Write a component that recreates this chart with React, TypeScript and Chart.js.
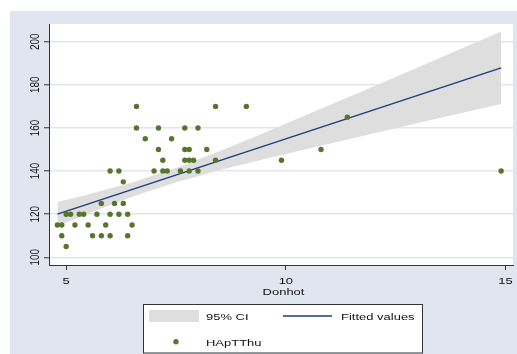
import React, { useEffect, useRef } from "react";
import { Chart, registerables } from "chart.js";
Chart.register(...registerables);

// ---- data ----
const xTicks = [5, 10, 15];
const yTicks = [100, 120, 140, 160, 180, 200];

const donhot = [
  5.0,
  4.9, 5.6, 5.8, 6.0, 6.4,
  4.8, 4.9, 5.2, 5.5, 5.9, 6.5,
  5.0, 5.1, 5.3, 5.4, 5.7, 6.0, 6.2, 6.4,
  5.8, 6.1, 6.3,
  6.3,
  6.0, 6.2, 7.0, 7.2, 7.3, 7.6, 7.8, 8.0, 14.9,
  7.2, 7.7, 7.8, 7.9, 8.4, 9.9,
  7.1, 7.7, 7.8, 8.2, 10.8,
  6.8, 7.4,
  6.6, 7.1, 7.7, 8.0,
  11.4,
  6.6, 8.4, 9.1,
];
const hapTThu = [
  105,
  110, 110, 110, 110, 110,
  115, 115, 115, 115, 115, 115,
  120, 120, 120, 120, 120, 120, 120, 120,
  125, 125, 125,
  135,
  140, 140, 140, 140, 140, 140, 140, 140, 140,
  145, 145, 145, 145, 145, 145,
  150, 150, 150, 150, 150,
  155, 155,
  160, 160, 160, 160,
  165,
  170, 170, 170,
];

const fitX = [4.8, 14.9];
const fitY = [120.0, 187.9];

const ciX = [4.8, 5.5, 6.5, 7.5, 8.5, 9.5, 10.5, 11.5, 12.5, 13.5, 14.9];
const ciUpper = [125.6, 129.1, 134.7, 141.4, 149.3, 157.7, 166.3, 174.9, 183.6, 192.4, 204.7];
const ciLower = [114.4, 120.3, 128.1, 134.8, 140.5, 145.5, 150.3, 155.1, 159.8, 164.6, 171.1];

const legendLabels = ["95% CI", "Fitted values", "HApTThu"];
const xTitle = "Donhot";

// ---- styles ----
const BG = "rgb(225,229,240)";
const GRID = "rgb(225,229,240)";
const BAND = "rgb(222,222,222)";
const NAVY = "rgb(30,60,122)";
const GREEN = "rgb(86,118,46)";
const AXIS = "#333333";
const FONT = '11px "Liberation Sans", Arial, sans-serif';
const SX = 1.18;
const SY = 0.9;

function drawText(
  ctx: CanvasRenderingContext2D,
  text: string,
  x: number,
  y: number,
  align: CanvasTextAlign,
  rotate = false
) {
  ctx.save();
  ctx.translate(x, y);
  ctx.scale(SX, SY);
  if (rotate) ctx.rotate(-Math.PI / 2);
  ctx.font = FONT;
  ctx.fillStyle = "#111";
  ctx.textAlign = align;
  ctx.textBaseline = "alphabetic";
  ctx.fillText(text, 0, 0);
  ctx.restore();
}

const framePlugin = {
  id: "stataFrame",
  beforeDraw(chart: any) {
    const { ctx, chartArea: ca } = chart;
    ctx.save();
    ctx.fillStyle = "#ffffff";
    ctx.fillRect(0, 0, chart.width, chart.height);
    ctx.fillStyle = BG;
    ctx.fillRect(10, 11, chart.width - 10, chart.height - 11);
    ctx.fillStyle = "#ffffff";
    ctx.fillRect(ca.left, ca.top, ca.right - ca.left, ca.bottom - ca.top);
    ctx.restore();
  },
  afterDraw(chart: any) {
    const { ctx } = chart;
    const xs = chart.scales.x;
    const ys = chart.scales.y;
    // y tick labels (rotated)
    yTicks.forEach((v) => {
      drawText(ctx, String(v), 38.9, ys.getPixelForValue(v), "center", true);
    });
    // x tick labels
    xTicks.forEach((v) => {
      drawText(ctx, String(v), xs.getPixelForValue(v), 283.5, "center");
    });
    // x title
    drawText(ctx, xTitle, 283.5, 295.3, "center");

    // legend
    ctx.save();
    ctx.fillStyle = "#ffffff";
    ctx.fillRect(143.5, 304.5, 279, 48.5);
    ctx.strokeStyle = AXIS;
    ctx.lineWidth = 1;
    ctx.strokeRect(143.5, 304.5, 279, 48.5);
    ctx.fillStyle = BAND;
    ctx.fillRect(149, 310, 50, 12);
    ctx.strokeStyle = NAVY;
    ctx.lineWidth = 1.3;
    ctx.beginPath();
    ctx.moveTo(283, 316);
    ctx.lineTo(332, 316);
    ctx.stroke();
    ctx.fillStyle = GREEN;
    ctx.beginPath();
    ctx.arc(176, 341.7, 2.7, 0, Math.PI * 2);
    ctx.fill();
    ctx.restore();
    drawText(ctx, legendLabels[0], 206, 319.5, "left");
    drawText(ctx, legendLabels[1], 341, 319.5, "left");
    drawText(ctx, legendLabels[2], 206, 345.5, "left");
  },
};

export default function App() {
  const ref = useRef<HTMLCanvasElement | null>(null);

  useEffect(() => {
    document.body.style.margin = "0";
    const canvas = ref.current;
    if (!canvas) return;

    const points = donhot.map((x, i) => ({ x, y: hapTThu[i] }));
    const fit = fitX.map((x, i) => ({ x, y: fitY[i] }));
    const upper = ciX.map((x, i) => ({ x, y: ciUpper[i] }));
    const lower = ciX.map((x, i) => ({ x, y: ciLower[i] }));

    const chart = new Chart(canvas, {
      type: "scatter",
      data: {
        datasets: [
          {
            label: legendLabels[2],
            data: points,
            pointRadius: 2.7,
            pointBackgroundColor: GREEN,
            pointBorderWidth: 0,
            pointBorderColor: GREEN,
            showLine: false,
            order: 0,
          } as any,
          {
            type: "line",
            label: legendLabels[1],
            data: fit,
            borderColor: NAVY,
            borderWidth: 1.3,
            pointRadius: 0,
            fill: false,
            tension: 0,
            order: 1,
          } as any,
          {
            type: "line",
            label: legendLabels[0],
            data: upper,
            borderColor: "rgba(0,0,0,0)",
            borderWidth: 0,
            pointRadius: 0,
            backgroundColor: BAND,
            fill: "+1",
            tension: 0,
            order: 2,
          } as any,
          {
            type: "line",
            label: "lower",
            data: lower,
            borderColor: "rgba(0,0,0,0)",
            borderWidth: 0,
            pointRadius: 0,
            fill: false,
            tension: 0,
            order: 3,
          } as any,
        ],
      },
      options: {
        responsive: false,
        animation: false,
        devicePixelRatio: 1,
        layout: { padding: { top: 24, left: 0, right: 0, bottom: 0 } },
        plugins: {
          legend: { display: false },
          tooltip: { enabled: false },
        },
        scales: {
          x: {
            type: "linear",
            position: "bottom",
            min: 4.609,
            max: 15.17,
            afterBuildTicks: (s: any) => {
              s.ticks = xTicks.map((v) => ({ value: v }));
            },
            afterFit: (s: any) => {
              s.height = 89;
            },
            ticks: { display: false },
            grid: {
              drawOnChartArea: false,
              drawTicks: true,
              tickLength: 5,
              tickColor: AXIS,
              tickWidth: 1,
            },
            border: { display: true, color: AXIS, width: 1 },
          },
          y: {
            type: "linear",
            position: "left",
            min: 96.43,
            max: 208.21,
            afterBuildTicks: (s: any) => {
              s.ticks = yTicks.map((v) => ({ value: v }));
            },
            afterFit: (s: any) => {
              s.width = 49;
            },
            ticks: { display: false },
            grid: {
              color: GRID,
              lineWidth: 1.5,
              drawTicks: true,
              tickLength: 5,
              tickColor: AXIS,
              tickWidth: 1,
            },
            border: { display: true, color: AXIS, width: 1 },
          },
        },
      } as any,
      plugins: [framePlugin],
    });

    return () => chart.destroy();
  }, []);

  return (
    <canvas
      ref={ref}
      width={517}
      height={354}
      style={{ display: "block", width: 517, height: 354 }}
    />
  );
}
